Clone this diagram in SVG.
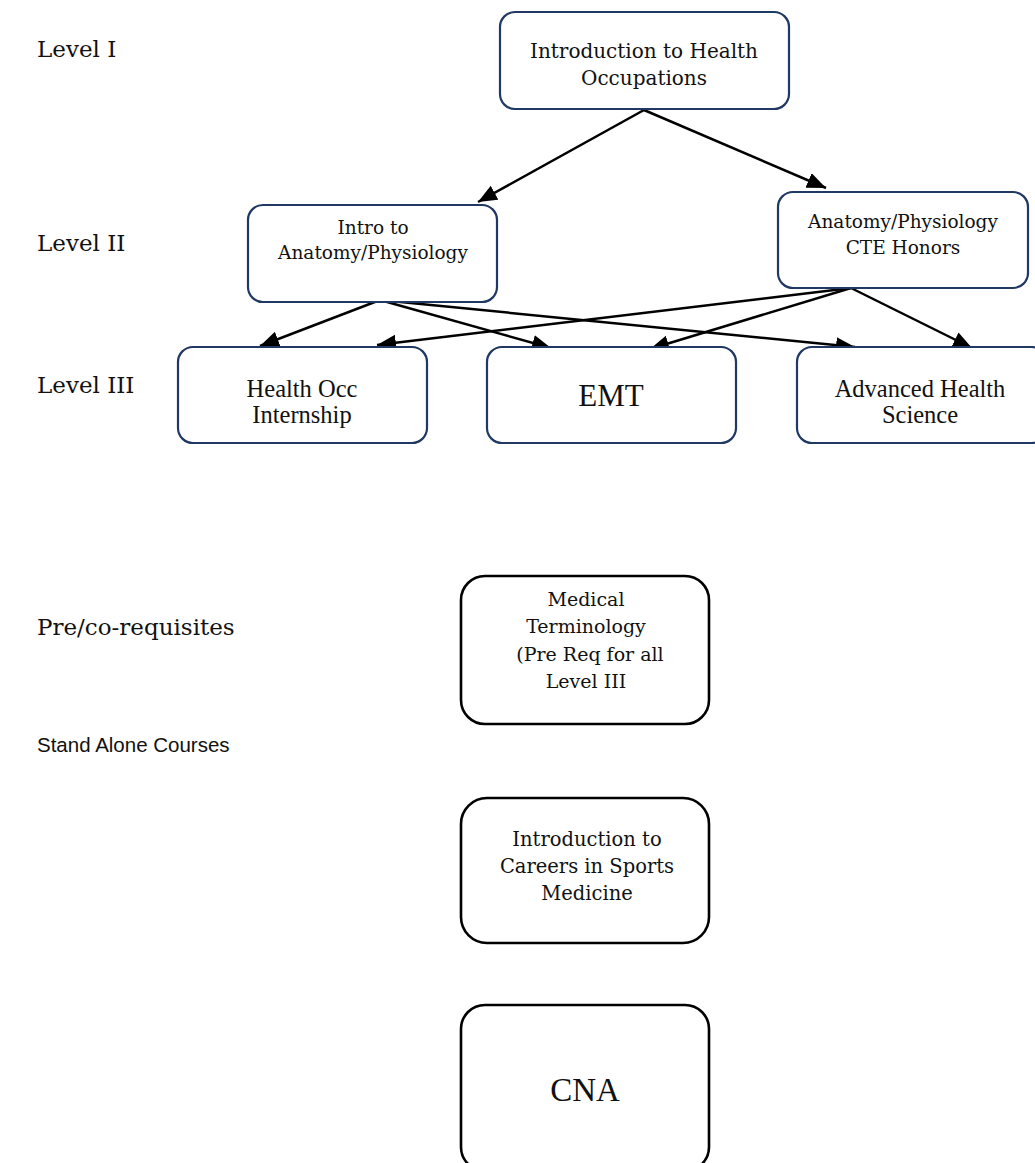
<svg xmlns="http://www.w3.org/2000/svg" width="1035" height="1163" viewBox="0 0 1035 1163">
<style>
.bg{fill:#ffffff}
.nav{fill:#ffffff;stroke:#1f3864;stroke-width:2.2}
.blk{fill:#ffffff;stroke:#000000;stroke-width:2.6}
.t{font-family:"DejaVu Serif",serif;fill:#111111;text-anchor:middle}
.n{font-family:"Liberation Serif",serif;fill:#111111;text-anchor:middle}
.lab{font-family:"DejaVu Serif",serif;fill:#111111;font-size:23px}
.sans{font-family:"Liberation Sans",sans-serif;fill:#111111;font-size:20.5px}
.e{stroke:#000000;stroke-width:2.5;fill:none;marker-end:url(#ah)}
</style>
<defs>
<marker id="ah" markerUnits="userSpaceOnUse" markerWidth="22" markerHeight="18" refX="19" refY="8" orient="auto">
<path d="M0,0 L19,8 L0,16 Z" fill="#000000"/>
</marker>
</defs>
<rect class="bg" x="0" y="0" width="1035" height="1163"/>
<g id="labels">
<text class="lab" x="37" y="57">Level I</text>
<text class="lab" x="37" y="251">Level II</text>
<text class="lab" x="37" y="393">Level III</text>
<text class="lab" x="37" y="635">Pre/co-requisites</text>
<text class="sans" x="37" y="752">Stand Alone Courses</text>
</g>
<g id="connectors">
<line class="e" x1="644" y1="110" x2="478" y2="202"/>
<line class="e" x1="644" y1="110" x2="826" y2="188"/>
<line class="e" x1="380" y1="300" x2="260" y2="346"/>
<line class="e" x1="380" y1="300" x2="551" y2="348"/>
<line class="e" x1="380" y1="300" x2="855" y2="347"/>
<line class="e" x1="851" y1="288" x2="377" y2="345"/>
<line class="e" x1="851" y1="288" x2="650" y2="349"/>
<line class="e" x1="851" y1="288" x2="972" y2="348"/>
</g>
<g id="n-intro-health">
<rect class="nav" x="500" y="12" width="289" height="97" rx="15"/>
<text class="t" font-size="20" x="644" y="58">Introduction to Health</text>
<text class="t" font-size="20" x="644" y="85">Occupations</text>
</g>
<g id="n-intro-anat">
<rect class="nav" x="248" y="205" width="249" height="97" rx="15"/>
<text class="t" font-size="18.5" x="373" y="234">Intro to</text>
<text class="t" font-size="18.5" x="373" y="259">Anatomy/Physiology</text>
</g>
<g id="n-anat-hon">
<rect class="nav" x="778" y="192" width="250" height="96" rx="15"/>
<text class="t" font-size="18.5" x="903" y="228">Anatomy/Physiology</text>
<text class="t" font-size="18.5" x="903" y="254">CTE Honors</text>
</g>
<g id="n-internship">
<rect class="nav" x="178" y="347" width="249" height="96" rx="15"/>
<text class="n" font-size="24.5" x="302" y="397">Health Occ</text>
<text class="n" font-size="24.5" x="302" y="423">Internship</text>
</g>
<g id="n-emt">
<rect class="nav" x="487" y="347" width="249" height="96" rx="15"/>
<text class="n" font-size="31" x="611" y="406">EMT</text>
</g>
<g id="n-adv">
<rect class="nav" x="797" y="347" width="250" height="96" rx="15"/>
<text class="n" font-size="24.5" x="920" y="397">Advanced Health</text>
<text class="n" font-size="24.5" x="920" y="423">Science</text>
</g>
<g id="n-medterm">
<rect class="blk" x="461" y="576" width="248" height="148" rx="24"/>
<text class="t" font-size="19" x="586" y="606">Medical</text>
<text class="t" font-size="19" x="586" y="633">Terminology</text>
<text class="t" font-size="19" x="590" y="661">(Pre Req for all</text>
<text class="t" font-size="19" x="586" y="688">Level III</text>
</g>
<g id="n-sports">
<rect class="blk" x="461" y="798" width="248" height="145" rx="26"/>
<text class="t" font-size="19.5" x="587" y="846">Introduction to</text>
<text class="t" font-size="19.5" x="587" y="873">Careers in Sports</text>
<text class="t" font-size="19.5" x="587" y="900">Medicine</text>
</g>
<g id="n-cna">
<rect class="blk" x="461" y="1005" width="248" height="166" rx="24"/>
<text class="n" font-size="33" x="585" y="1101">CNA</text>
</g>
</svg>
